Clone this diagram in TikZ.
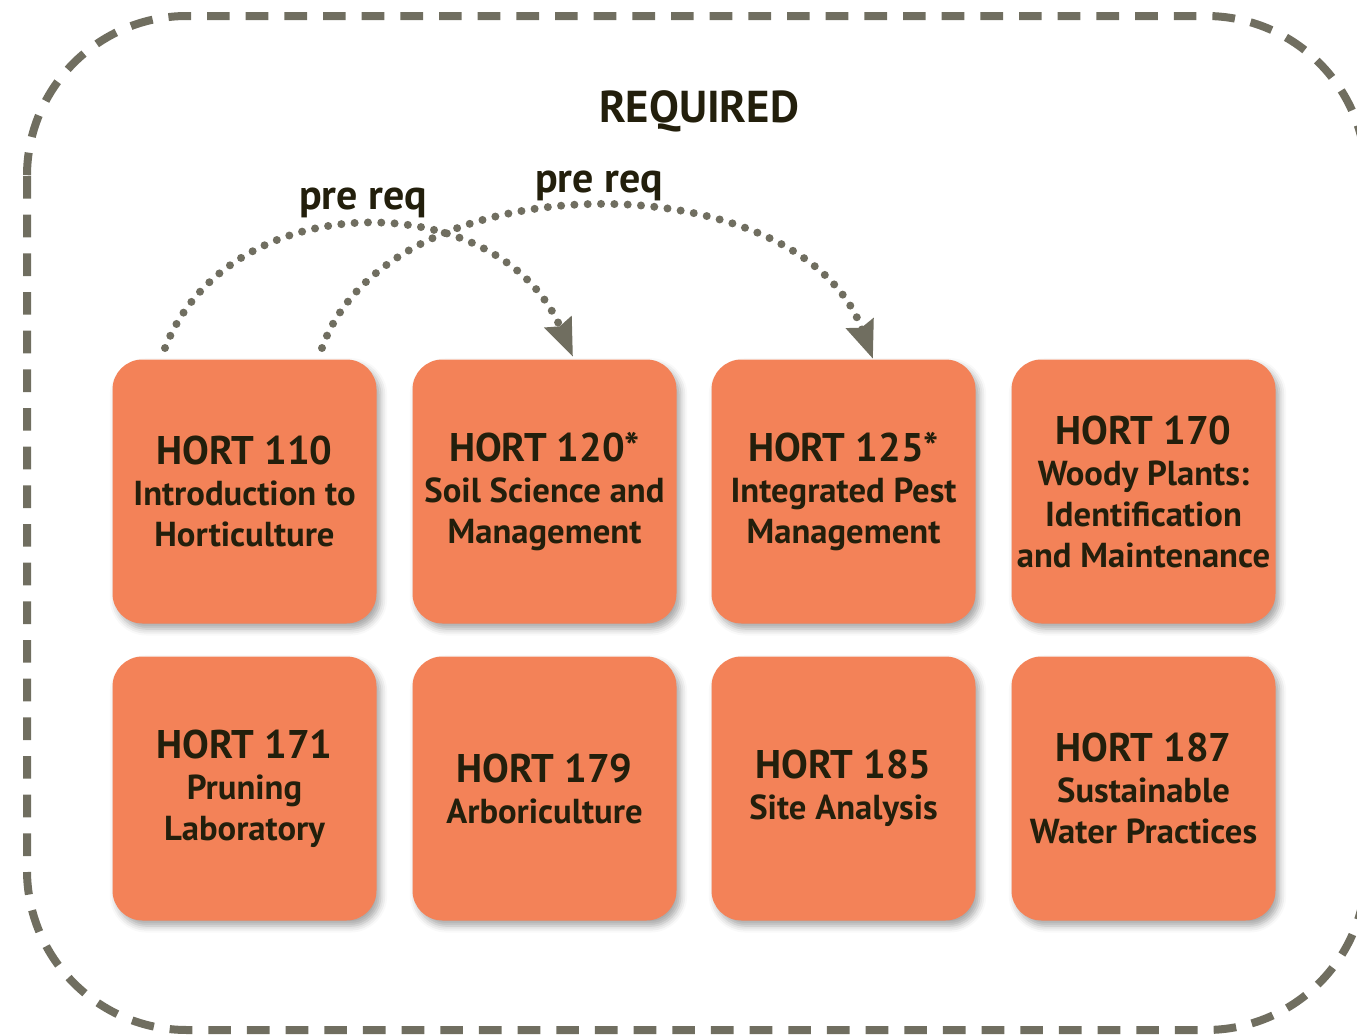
\documentclass[tikz,border=0pt]{standalone}
\usepackage{fontspec}
\setmainfont{PT Sans}
\usetikzlibrary{arrows.meta,shadows.blur}

\definecolor{hortorange}{RGB}{243,130,88}
\definecolor{hortink}{RGB}{35,31,12}
\definecolor{hortgray}{RGB}{112,110,96}

\tikzset{every picture/.style={line width=0.75pt},
	course/.style={fill=hortorange, rounded corners=22.5pt, minimum width=198pt, minimum height=198pt, inner sep=0pt, align=center, text=hortink, font=\fontsize{26}{30.75}\selectfont\bfseries, blur shadow={shadow xshift=3pt, shadow yshift=-4pt, shadow blur radius=5pt, shadow opacity=35}},
	prereq/.style={draw=hortgray, line width=6pt, line cap=round, dash pattern=on 0pt off 10pt, -{Stealth[length=28pt,width=21pt,inset=3pt]}},
	tag/.style={text=hortink, font=\fontsize{31.5}{32}\selectfont\bfseries}}

\newcommand{\hortcode}[1]{{\fontsize{30}{30.75}\selectfont #1}}

\begin{document}
\begin{tikzpicture}[x=0.75pt,y=0.75pt,yscale=-1,xscale=1]
		\clip (0,0) rectangle (1357,1035);
		
		%Rounded Rect [id:outer] 
		\draw [hortgray, line width=6pt, dash pattern=on 17pt off 12pt, rounded corners=120pt] (27,16) rectangle (1366,1030) ;
		
		% Text Node
		\node [tag, font=\fontsize{33.5}{34}\selectfont\bfseries] (required) at (699,111) {REQUIRED};
		
		%Shape: Course boxes, first row
		\node [course] (h110) at (244.5,491.5) {\hortcode{HORT 110}\\Introduction to\\Horticulture};
		\node [course] (h120) at (544.5,491.5) {\hortcode{HORT 120*}\\Soil Science and\\Management};
		\node [course] (h125) at (843.5,491.5) {\hortcode{HORT 125*}\\Integrated Pest\\Management};
		\node [course] (h170) at (1143.5,491.5) {\hortcode{HORT 170}\\Woody Plants:\\Identification\\and Maintenance};
		%Shape: Course boxes, second row
		\node [course] (h171) at (244.5,788.5) {\hortcode{HORT 171}\\Pruning\\Laboratory};
		\node [course] (h179) at (544.5,788.5) {\hortcode{HORT 179}\\Arboriculture};
		\node [course] (h185) at (843.5,788.5) {\hortcode{HORT 185}\\Site Analysis};
		\node [course] (h187) at (1143.5,788.5) {\hortcode{HORT 187}\\Sustainable\\Water Practices};
		
		%Curve Lines [id:prereq1] 
		\draw [prereq] ([shift={(53,-11)}]h110.north west) .. controls +(64,-164) and +(-74,-173) .. ([shift={(161,-2)}]h120.north west) ;
		%Curve Lines [id:prereq2] 
		\draw [prereq] ([shift={(210,-11)}]h110.north west) .. controls +(67,-189) and +(-74,-200) .. ([shift={(162,0)}]h125.north west) ;
		
		% Text Node
		\node [tag] (label1) at (363,203) {pre req};
		% Text Node
		\node [tag] (label2) at (599,186) {pre req};
		
\end{tikzpicture}
\end{document}
